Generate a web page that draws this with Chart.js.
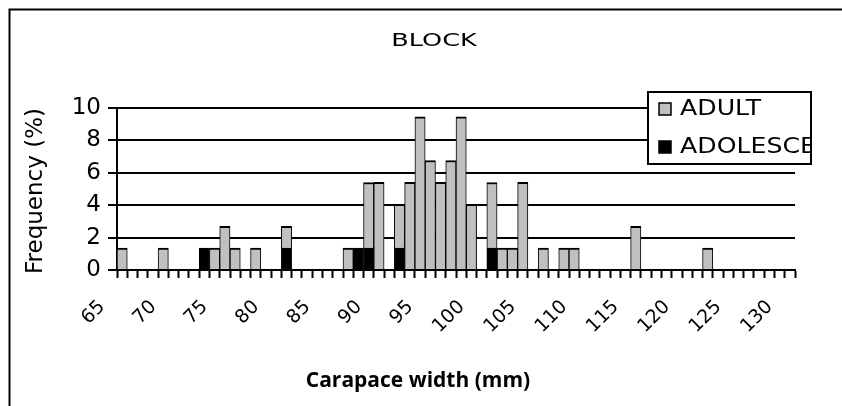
<!DOCTYPE html>
<html>
<head>
<meta charset="utf-8">
<script src="https://cdn.jsdelivr.net/npm/chart.js@4.4.1/dist/chart.umd.min.js"></script>
<style>
  html, body { margin: 0; padding: 0; background: #fff; }
  #wrap { width: 842px; height: 406px; }
</style>
</head>
<body>
<div id="wrap"><canvas id="c" width="842" height="406"></canvas></div>
<script>
// ---- Data (frequency %) ----
const chartTitle = 'BLOCK';
const xTitle = 'Carapace width (mm)';
const yTitle = 'Frequency (%)';

const categories = ['65','66','67','68','69','70','71','72','73','74','75','76','77','78','79',
  '80','81','82','83','84','85','86','87','88','89','90','91','92','93','94','95','96','97','98','99',
  '100','101','102','103','104','105','106','107','108','109','110','111','112','113','114','115',
  '116','117','118','119','120','121','122','123','124','125','126','127','128','129','130'];

const tickLabels = ['65','70','75','80','85','90','95','100','105','110','115','120','125','130'];

const adolescent = [null,null,null,null,null,null,null,null,1.35,null,null,null,null,null,null,
  null,1.35,null,null,null,null,null,null,1.35,1.35,null,null,1.35,null,null,null,null,null,null,null,
  null,1.35,null,null,null,null,null,null,null,null,null,null,null,null,null,null,
  null,null,null,null,null,null,null,null,null,null,null,null,null,null,null];

const adult = [1.35,null,null,null,1.35,null,null,null,null,1.35,2.70,1.35,null,1.35,null,
  null,1.35,null,null,null,null,null,1.35,null,4.05,5.41,null,2.70,5.41,9.46,6.76,5.41,6.76,9.46,4.05,
  null,4.05,1.35,1.35,5.41,null,1.35,null,1.35,1.35,null,null,null,null,null,2.70,
  null,null,null,null,null,null,1.35,null,null,null,null,null,null,null,null];

const seriesNames = ['ADOLESCENT', 'ADULT'];
const seriesColors = ['#000000', '#c0c0c0'];

// ---- Decorations: frame, title, axis titles, legend ----
const decor = {
  id: 'decor',
  beforeDraw(chart) {
    const ctx = chart.ctx;
    ctx.save();
    ctx.fillStyle = '#fff';
    ctx.fillRect(0, 0, chart.width, chart.height);
    ctx.strokeStyle = '#000';
    ctx.lineWidth = 2;
    ctx.beginPath();
    ctx.moveTo(9.5, chart.height);
    ctx.lineTo(9.5, 9.5);
    ctx.lineTo(chart.width, 9.5);
    ctx.stroke();
    ctx.restore();
  },
  afterDraw(chart) {
    const ctx = chart.ctx;
    ctx.save();
    ctx.fillStyle = '#000';
    // title
    ctx.font = '18px "DejaVu Sans"';
    ctx.textAlign = 'center';
    ctx.textBaseline = 'middle';
    ctx.save();
    ctx.translate(434, 41);
    ctx.scale(1.42, 1);
    ctx.fillText(chartTitle, 0, 0);
    ctx.restore();
    // y title
    ctx.save();
    ctx.translate(36, 191);
    ctx.rotate(-Math.PI / 2);
    ctx.font = '23px "DejaVu Sans"';
    ctx.fillText(yTitle, 0, 0);
    ctx.restore();
    // x title
    ctx.font = 'bold 21px "Open Sans"';
    ctx.fillText(xTitle, 418, 381);
    // legend
    const lx = 648, ly = 92, lw = 163, lh = 72;
    ctx.fillStyle = '#fff';
    ctx.fillRect(lx, ly, lw, lh);
    ctx.strokeStyle = '#000';
    ctx.lineWidth = 2;
    ctx.strokeRect(lx, ly, lw, lh);
    ctx.beginPath();
    ctx.rect(lx + 1, ly + 1, lw - 2, lh - 2);
    ctx.clip();
    const ds = chart.data.datasets;
    const order = [1, 0];
    order.forEach((di, k) => {
      const cy = 109 + k * 38;
      ctx.fillStyle = ds[di].backgroundColor;
      ctx.fillRect(659, cy - 6, 12, 12);
      ctx.lineWidth = 1.5;
      ctx.strokeStyle = '#000';
      ctx.strokeRect(659, cy - 6, 12, 12);
      ctx.fillStyle = '#000';
      ctx.font = '21px "DejaVu Sans"';
      ctx.textAlign = 'left';
      ctx.textBaseline = 'middle';
      ctx.save();
      ctx.translate(680, cy + 1);
      ctx.scale(1.2, 1);
      ctx.fillText(ds[di].label, 0, 0);
      ctx.restore();
    });
    ctx.restore();
  }
};

const datasets = [adolescent, adult].map((vals, i) => ({
  label: seriesNames[i],
  data: vals,
  backgroundColor: seriesColors[i],
  borderColor: '#000',
  borderWidth: { left: 1, right: 1, top: 2, bottom: 0 },
  borderSkipped: false,
  categoryPercentage: 1.0,
  barPercentage: 1.0
}));

new Chart(document.getElementById('c'), {
  type: 'bar',
  data: { labels: categories, datasets },
  options: {
    responsive: false,
    devicePixelRatio: 1,
    animation: false,
    layout: { padding: { left: 0, top: 108, right: 47, bottom: 0 } },
    plugins: {
      legend: { display: false },
      title: { display: false },
      tooltip: { enabled: false }
    },
    scales: {
      x: {
        stacked: true,
        afterFit(s) { s.height = 136; },
        border: { display: true, color: '#000', width: 2 },
        grid: {
          offset: true,
          drawOnChartArea: false,
          drawTicks: true,
          tickLength: 8,
          tickWidth: 2,
          tickColor: '#000',
          color: '#000'
        },
        ticks: {
          autoSkip: false,
          minRotation: 45,
          maxRotation: 45,
          padding: 18,
          labelOffset: -20,
          color: '#000',
          font: { family: '"DejaVu Sans"', size: 19 },
          callback(value, index) {
            const lab = categories[index];
            return tickLabels.includes(lab) ? lab : '';
          }
        }
      },
      y: {
        stacked: true,
        min: 0,
        max: 10,
        afterFit(s) { s.width = 117; },
        border: { display: true, color: '#000', width: 2 },
        grid: {
          color: '#000',
          lineWidth: 2,
          drawTicks: true,
          tickLength: 9,
          tickColor: '#000'
        },
        ticks: {
          stepSize: 2,
          padding: 7,
          color: '#000',
          font: { family: '"DejaVu Sans"', size: 23 }
        }
      }
    }
  },
  plugins: [decor]
});
</script>
</body>
</html>
